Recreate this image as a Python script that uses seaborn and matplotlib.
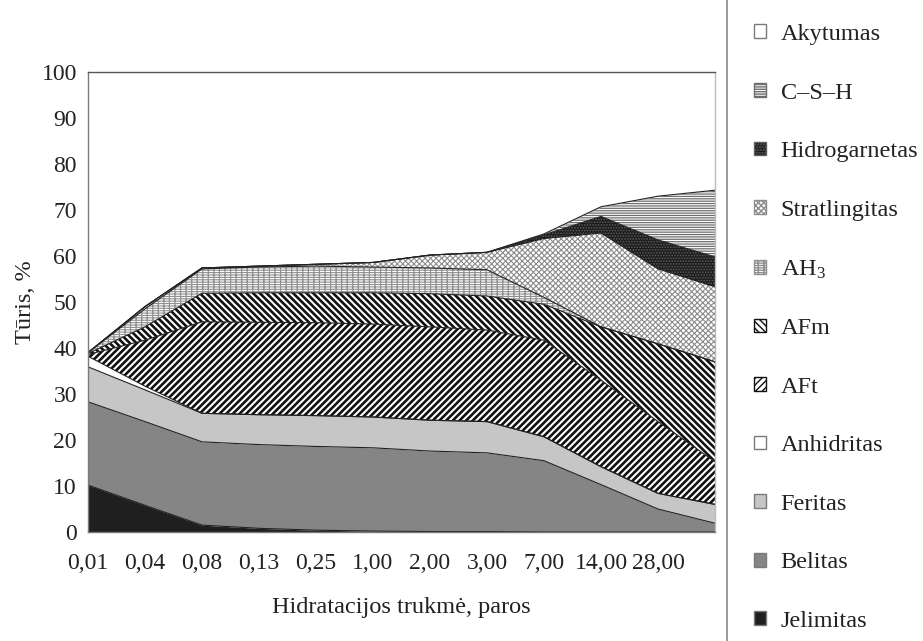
import matplotlib
matplotlib.use("Agg")
import matplotlib.pyplot as plt
from matplotlib.patches import Patch
from matplotlib.lines import Line2D
import numpy as np
import pandas as pd
import seaborn as sns

# Hydration time (days); the last sample has no printed label
days = ['0,01', '0,04', '0,08', '0,13', '0,25', '1,00', '2,00', '3,00',
        '7,00', '14,00', '28,00', '']

# Phase volume fractions, %
jelimitas = [10.2, 5.8, 1.5, 0.8, 0.4, 0.2, 0.1, 0.1, 0.0, 0.0, 0.0, 0.0]
belitas = [18.1, 18.2, 18.1, 18.2, 18.2, 18.1, 17.5, 17.1, 15.5, 10.3, 5.0, 1.9]
feritas = [7.6, 6.9, 6.2, 6.5, 6.7, 6.7, 6.7, 6.8, 5.2, 3.9, 3.4, 4.1]
anhidritas = [2.3, 0.8, 0.0, 0.0, 0.0, 0.0, 0.0, 0.0, 0.0, 0.0, 0.0, 0.0]
aft = [0.4, 10.0, 19.9, 20.1, 20.2, 20.2, 20.3, 19.9, 21.0, 18.8, 15.6, 9.3]
afm = [0.2, 2.9, 6.2, 6.4, 6.5, 6.8, 7.2, 7.4, 7.8, 11.6, 16.9, 21.7]
ah3 = [0.2, 3.9, 5.3, 5.6, 5.8, 5.6, 5.6, 5.7, 1.5, 0.0, 0.0, 0.0]
stratlingitas = [0.0, 0.5, 0.2, 0.2, 0.4, 1.0, 2.8, 3.8, 12.8, 20.4, 16.3, 16.3]
hidrogarnetas = [0.0, 0.0, 0.0, 0.0, 0.0, 0.0, 0.0, 0.0, 0.8, 3.6, 6.3, 6.5]
csh = [0.0, 0.0, 0.0, 0.0, 0.0, 0.0, 0.0, 0.0, 0.2, 2.1, 9.5, 14.5]
akytumas = [61.0, 51.0, 42.6, 42.2, 41.8, 41.4, 39.8, 39.2, 35.2, 29.3, 27.0, 25.7]

y_ticks = [0, 10, 20, 30, 40, 50, 60, 70, 80, 90, 100]

# (label, values, face colour, hatch, hatch colour, hatch width) bottom -> top
layers = [
    ('Jelimitas', jelimitas, '#1f1f1f', None, '#1f1f1f', 1.0),
    ('Belitas', belitas, '#858585', None, '#858585', 1.0),
    ('Feritas', feritas, '#c6c6c6', None, '#c6c6c6', 1.0),
    ('Anhidritas', anhidritas, '#ffffff', None, '#ffffff', 1.0),
    ('AFt', aft, '#ffffff', '/////', '#111111', 1.9),
    ('AFm', afm, '#ffffff', '\\\\\\\\\\', '#111111', 1.9),
    (r'AH$_\mathregular{3}$', ah3, '#ffffff', '-------|||', '#8f8f8f', 0.8),
    ('Stratlingitas', stratlingitas, '#ffffff', 'xxxxxx', '#8c8c8c', 0.8),
    ('Hidrogarnetas', hidrogarnetas, '#1c1c1c', '......', '#5e5e5e', 0.8),
    ('C–S–H', csh, '#ffffff', '-------', '#6e6e6e', 0.9),
    ('Akytumas', akytumas, '#ffffff', None, '#ffffff', 1.0),
]

sns.set_style('white')
plt.rcParams['font.family'] = ['Liberation Serif', 'DejaVu Serif']
plt.rcParams['mathtext.fontset'] = 'stix'

fig = plt.figure(figsize=(9.23, 6.41), dpi=100)
ax = fig.add_axes([88 / 923, 1 - 532 / 641, (715 - 88) / 923, (532 - 72) / 641])

x = np.arange(len(days))
base = np.zeros(len(days))
rows = []
for label, vals, face, hatch, hcol, hlw in layers:
    top = base + np.asarray(vals, dtype=float)
    with plt.rc_context({'hatch.linewidth': hlw}):
        ax.fill_between(x, base, top, facecolor=face, edgecolor=hcol,
                        hatch=hatch, linewidth=0, zorder=2)
    if label != 'Akytumas':
        rows.append(pd.DataFrame({'x': x, 'y': top, 'layer': label}))
    base = top

edges = pd.concat(rows, ignore_index=True)
sns.lineplot(data=edges, x='x', y='y', units='layer', estimator=None,
             color='#222222', linewidth=0.8, legend=False, ax=ax, zorder=3)

ax.set_xlim(0, len(days) - 1)
ax.set_ylim(0, 100)
ax.set_xticks(x)
ax.set_xticklabels(days)
ax.set_yticks(y_ticks)
ax.set_yticklabels([str(v) for v in y_ticks])
ax.tick_params(axis='both', direction='out', length=4, width=1,
               color='#888888', labelsize=17, labelcolor='#222222')
ax.tick_params(axis='x', pad=11)
ax.tick_params(axis='y', pad=4)
ax.set_xlabel('Hidratacijos trukmė, paros', fontsize=17.5, color='#222222',
              labelpad=17)
ax.set_ylabel('Tūris, %', fontsize=17.5, color='#222222', labelpad=4)

for side, col in [('left', '#7a7a7a'), ('bottom', '#7a7a7a'),
                  ('top', '#555555'), ('right', '#bbbbbb')]:
    ax.spines[side].set_visible(True)
    ax.spines[side].set_color(col)
    ax.spines[side].set_linewidth(1.0)
    ax.spines[side].set_zorder(4)

# Separator between the plot and the legend column
fig.add_artist(Line2D([727 / 923, 727 / 923], [0, 1], transform=fig.transFigure,
                      color='#8a8a8a', linewidth=1.2))

handles = []
for label, vals, face, hatch, hcol, hlw in reversed(layers):
    edge = '#7a7a7a' if hatch is None else hcol
    with plt.rc_context({'hatch.linewidth': min(hlw, 1.0)}):
        handles.append(Patch(facecolor=face, edgecolor=edge, hatch=hatch,
                             linewidth=1.0, label=label))

fig.legend(handles=handles, loc='upper left',
           bbox_to_anchor=(754 / 923, 1 - 24 / 641),
           bbox_transform=fig.transFigure, frameon=False, fontsize=17.5,
           handlelength=0.5, handleheight=0.5, handletextpad=0.6,
           labelspacing=1.545, borderpad=0, borderaxespad=0,
           labelcolor='#222222')

fig.savefig('out.png', dpi=100, facecolor='white')
